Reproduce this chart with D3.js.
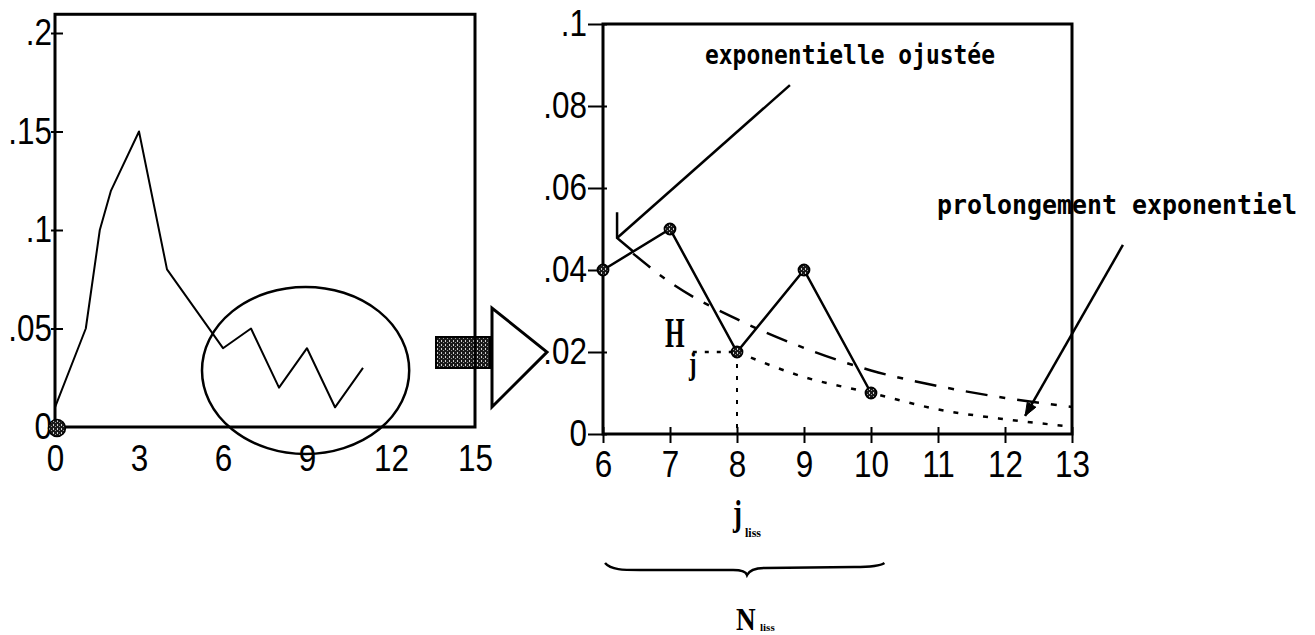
<!DOCTYPE html>
<html><head><meta charset="utf-8">
<script src="https://cdn.jsdelivr.net/npm/d3@7"></script>
<style>
html,body{margin:0;padding:0;background:#fff;}
svg{display:block;background:#fff;}
</style></head><body>
<svg id="chart" width="1315" height="635"></svg>
<script>
// Overview: full frequency series
const overviewX = [0, 1.1, 1.6, 2, 3, 4, 6, 7, 8, 9, 10, 11];
const overviewY = [0.01, 0.05, 0.10, 0.12, 0.15, 0.08, 0.04, 0.05, 0.02, 0.04, 0.01, 0.03];
const overviewXTicks = [0, 3, 6, 9, 12, 15];
const overviewYTicks = [0, 0.05, 0.1, 0.15, 0.2];
const overviewYLabels = ["0", ".05", ".1", ".15", ".2"];

// Detail: smoothing window and exponential tail
const lissX = [6, 7, 8, 9, 10];
const lissY = [0.04, 0.05, 0.02, 0.04, 0.01];
const fitX = [6.45, 7, 8, 9, 10, 11, 12, 13];
const fitY = [0.044, 0.037, 0.028, 0.021, 0.0155, 0.0117, 0.0088, 0.0066];
const extX = [8, 9, 10, 11, 12, 13];
const extY = [0.02, 0.0139, 0.0100, 0.0060, 0.0036, 0.0018];
const detailXTicks = [6, 7, 8, 9, 10, 11, 12, 13];
const detailYTicks = [0, 0.02, 0.04, 0.06, 0.08, 0.1];
const detailYLabels = ["0", ".02", ".04", ".06", ".08", ".1"];

const tickFont = '"Liberation Sans","Arial",sans-serif';
const serifFont = '"Liberation Serif","DejaVu Serif",serif';
const monoFont = '"DejaVu Sans Mono","Liberation Mono",monospace';
const tickSize = 37;

// narrow the tick glyphs horizontally, keeping anchors in place
function narrowTicks(axisG, sx) {
  axisG.attr("font-size", tickSize).attr("font-family", tickFont);
  axisG.selectAll(".tick text").each(function () {
    const t = d3.select(this);
    const x = +t.attr("x") || 0, y = +t.attr("y") || 0;
    t.attr("x", null).attr("y", null)
      .attr("transform", `translate(${x},${y}) scale(${sx},1)`);
  });
}

const svg = d3.select("#chart");
const defs = svg.append("defs");
const pat = defs.append("pattern").attr("id", "speck")
  .attr("width", 4).attr("height", 4).attr("patternUnits", "userSpaceOnUse");
pat.append("rect").attr("width", 4).attr("height", 4).attr("fill", "#1a1a1a");
pat.append("rect").attr("x", 1).attr("y", 0).attr("width", 1).attr("height", 2).attr("fill", "#cfcfcf");
pat.append("rect").attr("x", 3).attr("y", 2).attr("width", 1).attr("height", 1).attr("fill", "#9a9a9a");

// ---------- overview chart ----------
const xL = d3.scaleLinear().domain([0, 15]).range([55, 475]);
const yL = d3.scaleLinear().domain([0, 0.2]).range([427, 33]);

const gL = svg.append("g");

gL.append("rect")
  .attr("x", xL(0)).attr("y", yL(0.2095))
  .attr("width", xL(15) - xL(0)).attr("height", yL(0) - yL(0.2095))
  .attr("fill", "none").attr("stroke", "#000").attr("stroke-width", 3);

const axLx = gL.append("g").attr("transform", `translate(0,${yL(0)})`)
  .call(d3.axisBottom(xL).tickValues(overviewXTicks).tickSize(0).tickPadding(18).tickFormat(d3.format("d")));
axLx.select(".domain").remove();
narrowTicks(axLx, 0.85);

const axLy = gL.append("g").attr("transform", `translate(${xL(0)},0)`)
  .call(d3.axisLeft(yL).tickValues(overviewYTicks).tickSize(3).tickPadding(0)
    .tickFormat((d, i) => overviewYLabels[i]));
axLy.select(".domain").remove();
axLy.selectAll(".tick line").attr("x1", 8).attr("x2", -4).attr("stroke-width", 2);
narrowTicks(axLy, 0.85);

gL.append("path")
  .datum(overviewX.map((x, i) => [x, overviewY[i]]))
  .attr("fill", "none").attr("stroke", "#000").attr("stroke-width", 2)
  .attr("stroke-linejoin", "round")
  .attr("d", d3.line().x(d => xL(d[0])).y(d => yL(d[1])));

// hatched marker at the origin
gL.append("circle").attr("cx", xL(0.07)).attr("cy", yL(-0.0005)).attr("r", 8.5)
  .attr("fill", "url(#speck)").attr("stroke", "#000").attr("stroke-width", 1.5);

// highlighted window on the tail
gL.append("ellipse")
  .attr("cx", xL(8.95)).attr("cy", yL(0.0287))
  .attr("rx", xL(3.7) - xL(0)).attr("ry", yL(0) - yL(0.0424))
  .attr("fill", "none").attr("stroke", "#000").attr("stroke-width", 2.5);

// ---------- connecting arrow ----------
const gA = svg.append("g");
gA.append("rect").attr("x", 436).attr("y", 337).attr("width", 54).attr("height", 31)
  .attr("fill", "url(#speck)").attr("stroke", "#000").attr("stroke-width", 2);
gA.append("line").attr("x1", 475).attr("x2", 475).attr("y1", 337).attr("y2", 368)
  .attr("stroke", "#000").attr("stroke-width", 2.5);
gA.append("path").attr("d", "M492,308 L492,407 L547,352 Z")
  .attr("fill", "#fff").attr("stroke", "#000").attr("stroke-width", 3).attr("stroke-linejoin", "miter");

// ---------- detail chart ----------
const xR = d3.scaleLinear().domain([6, 13]).range([603, 1072]);
const yR = d3.scaleLinear().domain([0, 0.1]).range([434, 24]);

const gR = svg.append("g");

gR.append("rect")
  .attr("x", xR(6)).attr("y", yR(0.1))
  .attr("width", xR(13) - xR(6)).attr("height", yR(0) - yR(0.1))
  .attr("fill", "none").attr("stroke", "#000").attr("stroke-width", 3);

const axRx = gR.append("g").attr("transform", `translate(0,${yR(0)})`)
  .call(d3.axisBottom(xR).tickValues(detailXTicks).tickSize(9).tickPadding(8).tickFormat(d3.format("d")));
axRx.select(".domain").remove();
axRx.selectAll(".tick line").attr("y1", -7).attr("stroke-width", 2);
narrowTicks(axRx, 0.85);

const axRy = gR.append("g").attr("transform", `translate(${xR(6)},0)`)
  .call(d3.axisLeft(yR).tickValues(detailYTicks).tickSize(15).tickPadding(1)
    .tickFormat((d, i) => detailYLabels[i]));
axRy.select(".domain").remove();
axRy.selectAll(".tick line").attr("x1", 4).attr("stroke-width", 2);
narrowTicks(axRy, 0.85);

const lineR = d3.line().x(d => xR(d[0])).y(d => yR(d[1]));
const curveR = d3.line().curve(d3.curveMonotoneX).x(d => xR(d[0])).y(d => yR(d[1]));

// fitted exponential (long/short dashes)
gR.append("path")
  .datum(fitX.map((x, i) => [x, fitY[i]]))
  .attr("fill", "none").attr("stroke", "#000").attr("stroke-width", 2.5)
  .attr("stroke-dasharray", "22,12,6,12")
  .attr("d", curveR);

// exponential continuation from H_j (dotted)
gR.append("path")
  .datum(extX.map((x, i) => [x, extY[i]]))
  .attr("fill", "none").attr("stroke", "#000").attr("stroke-width", 2.5)
  .attr("stroke-dasharray", "5,10")
  .attr("d", curveR);

// H_j guide lines
gR.append("path")
  .datum([[7.34, lissY[2]], [8, lissY[2]]])
  .attr("fill", "none").attr("stroke", "#000").attr("stroke-width", 2.5)
  .attr("stroke-dasharray", "4,8").attr("d", lineR);
gR.append("path")
  .datum([[8, lissY[2]], [8, 0]])
  .attr("fill", "none").attr("stroke", "#000").attr("stroke-width", 2)
  .attr("stroke-dasharray", "4,8").attr("d", lineR);

// smoothed points
gR.append("path")
  .datum(lissX.map((x, i) => [x, lissY[i]]))
  .attr("fill", "none").attr("stroke", "#000").attr("stroke-width", 2.5)
  .attr("d", lineR);
gR.selectAll("circle.pt")
  .data(lissX.map((x, i) => [x, lissY[i]]))
  .join("circle").attr("class", "pt")
  .attr("cx", d => xR(d[0])).attr("cy", d => yR(d[1])).attr("r", 5.5)
  .attr("fill", "url(#speck)").attr("stroke", "#000").attr("stroke-width", 1.8);

// H_j label
gR.append("text").attr("transform", "translate(665,347) scale(0.6,1)")
  .attr("font-family", serifFont).attr("font-weight", "bold").attr("font-size", 42).text("H");
gR.append("text").attr("transform", "translate(689,374) scale(0.7,1)")
  .attr("font-family", serifFont).attr("font-weight", "bold").attr("font-size", 32).text("j");

// annotation: fitted exponential
const ann = svg.append("g").attr("stroke", "#000").attr("fill", "none").attr("stroke-width", 2.5);
ann.append("path").attr("d",
  `M${xR(8.79)},${yR(0.0851)} L${xR(6.21)},${yR(0.0478)}`);
ann.append("path").attr("d",
  `M${xR(6.21)},${yR(0.0541)} L${xR(6.21)},${yR(0.0478)} L${xR(6.46)},${yR(0.0444)}`);
svg.append("text").attr("x", 705).attr("y", 64)
  .attr("font-family", monoFont).attr("font-weight", "bold").attr("font-size", 26)
  .attr("textLength", 290).attr("lengthAdjust", "spacingAndGlyphs")
  .text("exponentielle ojustée");

// annotation: exponential continuation
const tipX = xR(12.3), tipY = yR(0.0044);
const tailX = xR(13.76), tailY = yR(0.0461);
ann.append("path").attr("d", `M${tailX},${tailY} L${tipX},${tipY}`);
{
  const ang = Math.atan2(tipY - tailY, tipX - tailX);
  const L = 13, W = 5;
  const bx = tipX - L * Math.cos(ang), by = tipY - L * Math.sin(ang);
  const px = -Math.sin(ang) * W, py = Math.cos(ang) * W;
  svg.append("path")
    .attr("d", `M${tipX},${tipY} L${bx + px},${by + py} L${bx - px},${by - py} Z`)
    .attr("fill", "#000").attr("stroke", "#000").attr("stroke-width", 1);
}
svg.append("text").attr("x", 937).attr("y", 214)
  .attr("font-family", monoFont).attr("font-weight", "bold").attr("font-size", 26)
  .attr("textLength", 360).attr("lengthAdjust", "spacingAndGlyphs")
  .text("prolongement exponentiel");

// ---------- window labels ----------
svg.append("text").attr("transform", "translate(733,525) scale(0.75,1)")
  .attr("font-family", serifFont).attr("font-weight", "bold").attr("font-size", 36).text("j");
svg.append("text").attr("x", 745).attr("y", 537)
  .attr("font-family", serifFont).attr("font-weight", "bold").attr("font-size", 12).text("liss");

const bL = xR(6.03), bR = xR(10.2), bM = xR(8.15), bY = 567;
svg.append("path")
  .attr("d", `M${bL},${bY - 4} C${bL + 6},${bY + 3} ${bL + 18},${bY + 3} ${bL + 35},${bY + 3}
    L${bM - 14},${bY + 3} C${bM - 4},${bY + 3} ${bM - 1},${bY + 5} ${bM},${bY + 8}
    C${bM + 2},${bY + 4} ${bM + 6},${bY + 1} ${bM + 18},${bY + 1}
    L${bR - 30},${bY} C${bR - 12},${bY} ${bR - 4},${bY - 1} ${bR},${bY - 4}`)
  .attr("fill", "none").attr("stroke", "#000").attr("stroke-width", 2.5);

svg.append("text").attr("transform", "translate(736,630) scale(0.85,1)")
  .attr("font-family", serifFont).attr("font-weight", "bold").attr("font-size", 32).text("N");
svg.append("text").attr("x", 760).attr("y", 631)
  .attr("font-family", serifFont).attr("font-weight", "bold").attr("font-size", 11).text("liss");
</script>
</body></html>
